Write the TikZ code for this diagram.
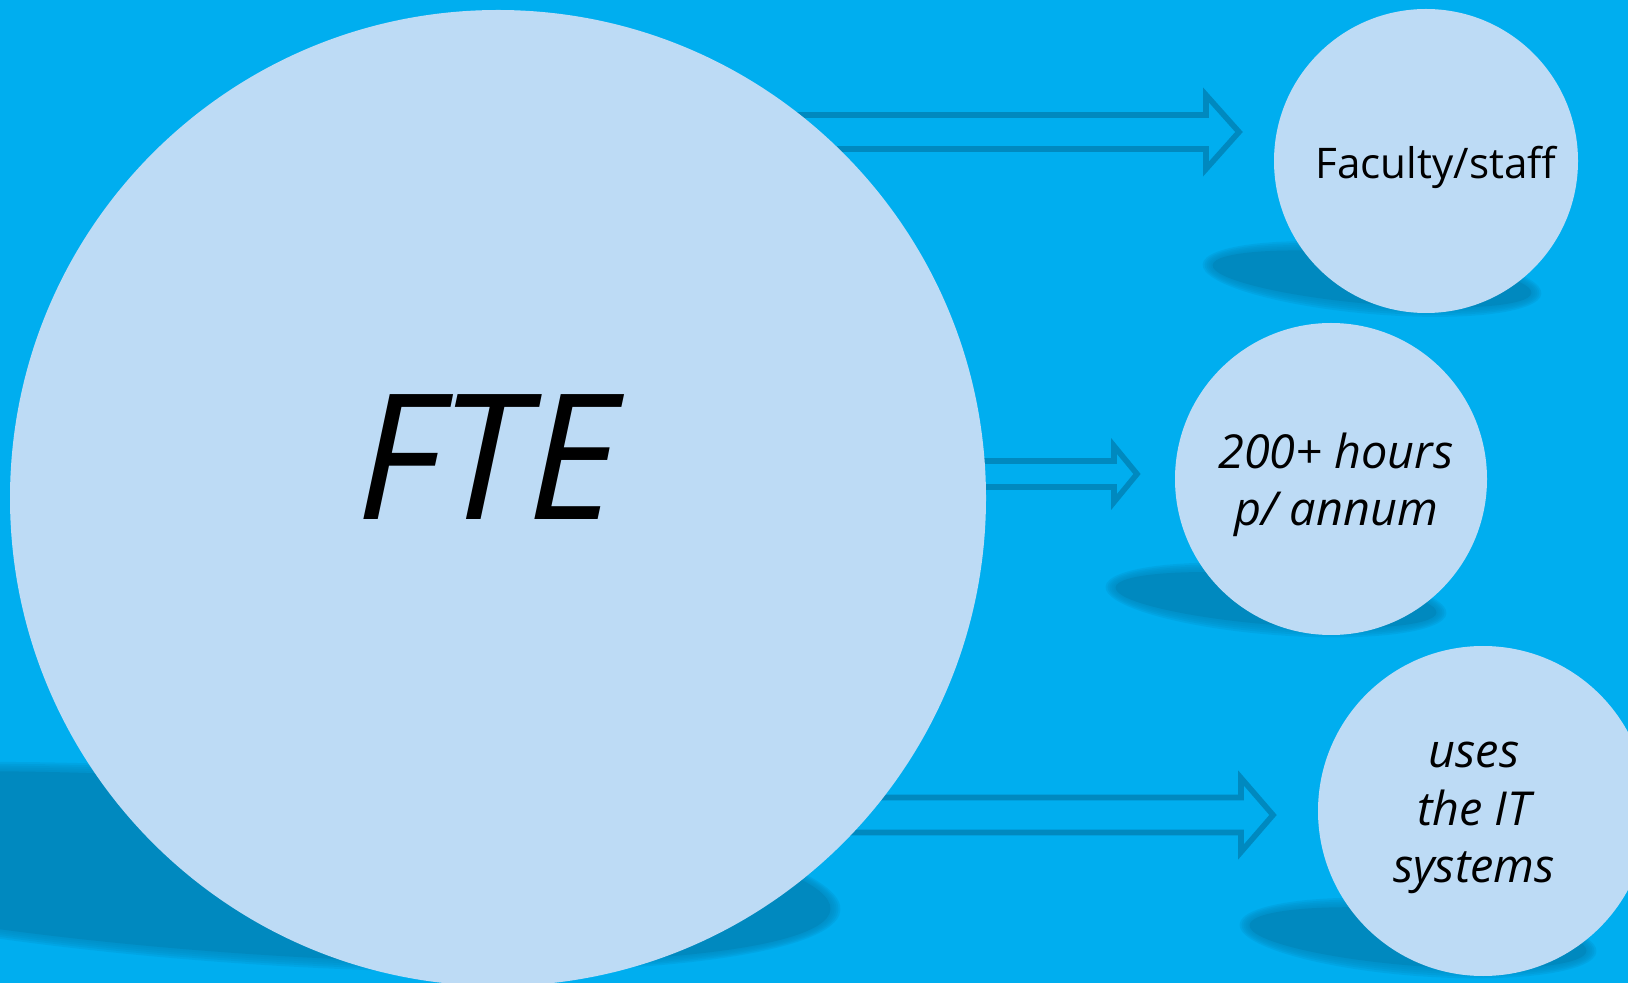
\documentclass[tikz,border=0pt]{standalone}
\usepackage{fontspec}
\setmainfont{Open Sans}
\usetikzlibrary{calc}
\definecolor{skyback}{RGB}{0,174,239}
\definecolor{discblue}{RGB}{189,219,245}
\definecolor{shadeblue}{RGB}{0,137,191}
\tikzset{
	disc/.style={circle, fill=discblue, inner sep=0pt},
	disctext/.style={inner sep=0pt, align=center, font=\fontsize{23.4}{28.8}\selectfont\itshape},
	fatarrow/.style={draw=shadeblue, line width=2.8pt, miter limit=10},
}
% soft cast shadow: centre, x radius, y radius, tilt
\newcommand\castshadow[4]{%
	\foreach \g in {10,8,...,2}
	\fill[shadeblue, opacity=0.22, rotate around={#4:(#1)}] (#1) ellipse [x radius=#2+\g, y radius=#3+\g];
	\fill[shadeblue, rotate around={#4:(#1)}] (#1) ellipse [x radius=#2, y radius=#3];
}
% hollow block arrow out of the hub: tip, shaft half, head half, head length
\newcommand\fatarrow[4]{%
	\draw[fatarrow] ($(hub |- #1)+(0,-#2)$) -- ($(#1)+(-#4,-#2)$) -- ($(#1)+(-#4,-#3)$) -- (#1)
	-- ($(#1)+(-#4,#3)$) -- ($(#1)+(-#4,#2)$) -- ($(hub |- #1)+(0,#2)$);
}
\begin{document}
\begin{tikzpicture}[x=0.5pt, y=-0.5pt, line join=miter]
	\fill[skyback] (0,0) rectangle (1628,983);
	\useasboundingbox (0,0) rectangle (1628,983);
	\coordinate (hub) at (498,498);
	% shadows
	\castshadow{238,867}{594}{86}{-4.1}
	\castshadow{1372,279}{160}{25}{-5}
	\castshadow{1276,600}{161}{25}{-4.5}
	\castshadow{1418,938}{169}{28}{-4.4}
	% arrows
	\coordinate (tip1) at (1239,132);
	\coordinate (tip2) at (1137,474);
	\coordinate (tip3) at (1273,815);
	\fatarrow{tip1}{17}{37}{33}
	\fatarrow{tip2}{13}{28}{23}
	\fatarrow{tip3}{17.5}{37}{32}
	% discs
	\node[disc, minimum size=488pt] (fte) at (hub) {};
	\node[disc, minimum size=152pt] (staff) at (1426,161) {};
	\node[disc, minimum size=156pt] (hours) at (1331,479) {};
	\node[disc, minimum size=165pt] (usage) at (1483,811) {};
	% texts
	\node[inner sep=0pt, font=\fontsize{87.5}{100}\selectfont\itshape] (ftelabel) at (487,457) {FTE};
	\node[inner sep=0pt, anchor=base, font=\fontsize{21.1}{26}\selectfont] (stafflabel) at (1436,179) {Faculty/staff};
	\node[disctext] (hourslabel) at (1336,485) {200+ hours\\p/ annum};
	\node[disctext] (usagelabel) at (1474,818) {uses\\the IT\\systems};
\end{tikzpicture}
\end{document}
